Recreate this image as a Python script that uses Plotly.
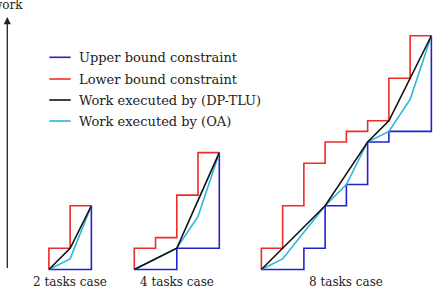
import plotly.graph_objects as go

# ---- data (work units; x in task slots, y in work units) ----
case_labels = ["2 tasks case", "4 tasks case", "8 tasks case"]
case_offsets = [2.3, 6.32, 12.3]          # left edge of each case (slot units)

# lower bound constraint (red): level reached after each slot start
red_levels = [
    [1, 3],
    [1, 1.5, 3.5, 5.5],
    [1, 3, 5, 6, 6.5, 7, 9, 11],
]
# upper bound constraint (blue): level during each slot, final jump at end
blue_levels = [
    [0, 0],
    [0, 0, 1, 1],
    [0, 0, 1, 3, 4, 6, 6.5, 6.5],
]
blue_final = [3, 5.5, 11]
# work executed by DP-TLU (black) at slot boundaries
black_work = [
    [0, 1, 3],
    [0, 0.5, 1, 3.25, 5.5],
    [0, 1, 2, 3, 4.5, 6, 7, 9, 11],
]
# work executed by OA (cyan) at slot boundaries
cyan_work = [
    [0, 0.5, 3],
    [0, 0.5, 1, 2.5, 5.5],
    [0, 0.5, 1.75, 3, 4, 6, 6.5, 8, 11],
]

legend_names = ["Upper bound constraint", "Lower bound constraint",
                "Work executed by (DP-TLU)", "Work executed by (OA)"]
colors = ["#2222d4", "#ee2b2b", "#111111", "#29b6dd"]

PX = 21.25
W, H = 437, 292
base_px = 269.5
FONT = "DejaVu Serif"

fig = go.Figure()

def add_line(xs, ys, color):
    fig.add_trace(go.Scatter(x=xs, y=ys, mode="lines",
                             line=dict(color=color, width=1.6),
                             hoverinfo="skip", showlegend=False))

for k in range(3):
    x0 = case_offsets[k]
    # red staircase
    xs, ys = [x0], [0]
    for i, lv in enumerate(red_levels[k]):
        xs += [x0 + i, x0 + i + 1]
        ys += [lv, lv]
    add_line(xs, ys, colors[1])
    # blue staircase
    xs, ys = [], []
    for i, lv in enumerate(blue_levels[k]):
        xs += [x0 + i, x0 + i + 1]
        ys += [lv, lv]
    xs.append(x0 + len(blue_levels[k]))
    ys.append(blue_final[k])
    add_line(xs, ys, colors[0])
    # cyan OA
    add_line([x0 + i for i in range(len(cyan_work[k]))], cyan_work[k], colors[3])
    # black DP-TLU
    add_line([x0 + i for i in range(len(black_work[k]))], black_work[k], colors[2])
    # label
    n = len(red_levels[k])
    fig.add_annotation(x=x0 + n / 2, y=(base_px - 281.5) / PX, text=case_labels[k],
                       showarrow=False, font=dict(family=FONT, size=12),
                       xanchor="center", yanchor="middle")

# vertical "work" axis arrow
ax_x = 7.3 / PX
fig.add_annotation(x=ax_x, y=(base_px - 17) / PX, ax=ax_x, ay=0,
                   axref="x", ayref="y", xref="x", yref="y", text="",
                   showarrow=True, arrowhead=2, arrowsize=1.1, arrowwidth=1.3,
                   arrowcolor="#222")
fig.add_annotation(x=ax_x, y=(base_px - 5) / PX, text="work", showarrow=False,
                   font=dict(family=FONT, size=12),
                   xanchor="center", yanchor="middle")

# legend (manual)
leg_y = [57.3, 79, 100, 121]
for i, name in enumerate(legend_names):
    yv = (base_px - leg_y[i]) / PX
    fig.add_shape(type="line", x0=49.3 / PX, x1=70.7 / PX, y0=yv, y1=yv,
                  line=dict(color=colors[i], width=1.6))
    fig.add_annotation(x=76.7 / PX, y=yv, text=name, showarrow=False,
                       xanchor="left", yanchor="middle",
                       font=dict(family=FONT, size=13))

fig.update_layout(
    width=W, height=H, margin=dict(l=0, r=0, t=0, b=0),
    plot_bgcolor="white", paper_bgcolor="white",
    font=dict(family=FONT, color="#222"),
    xaxis=dict(range=[0, W / PX], visible=False, fixedrange=True),
    yaxis=dict(range=[(base_px - H) / PX, base_px / PX], visible=False, fixedrange=True),
)

fig.write_html("out.html")
